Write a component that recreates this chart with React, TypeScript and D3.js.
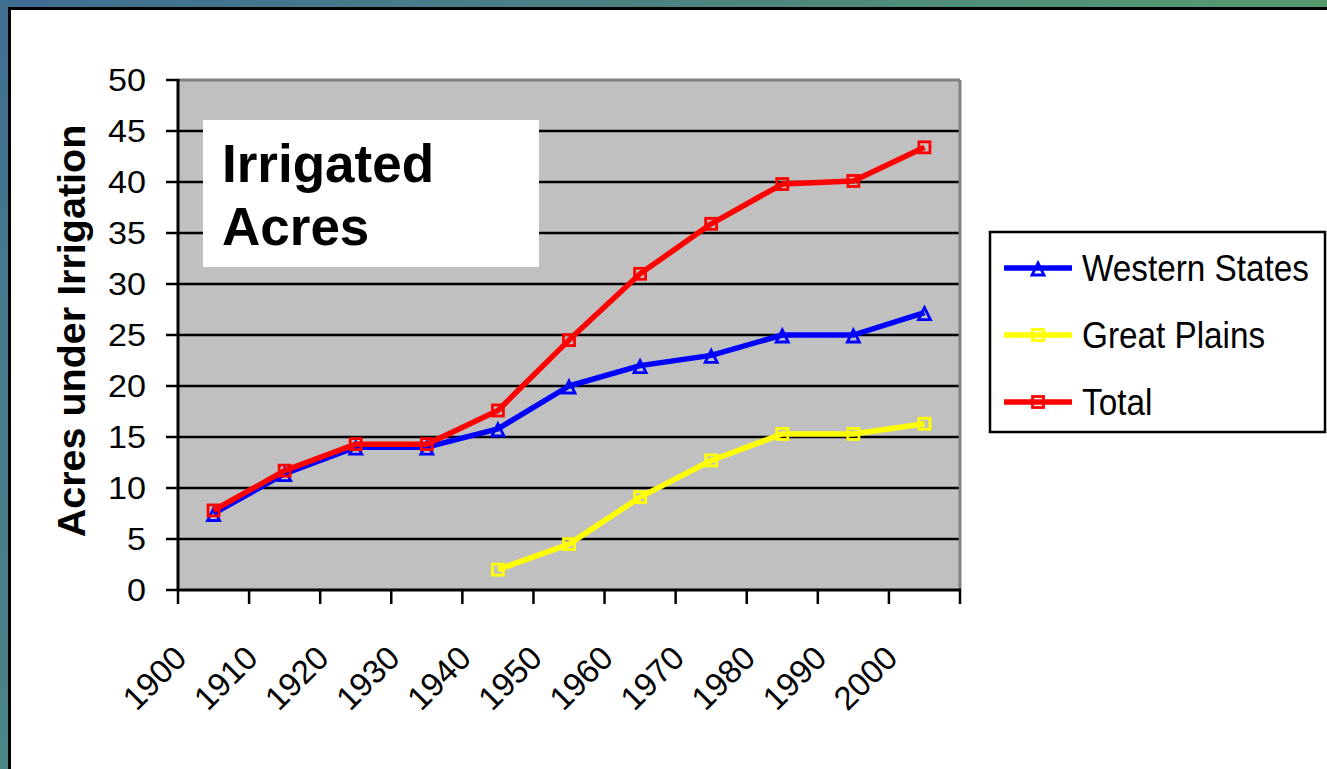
import React from "react";
import * as d3 from "d3";

const years = ["1900", "1910", "1920", "1930", "1940", "1950", "1960", "1970", "1980", "1990", "2000"];
const western = [7.5, 11.4, 14, 14, 15.8, 20, 22, 23, 25, 25, 27.2];
const greatPlains: (number | null)[] = [null, null, null, null, 2, 4.5, 9.1, 12.7, 15.3, 15.3, 16.3];
const total = [7.8, 11.7, 14.3, 14.3, 17.6, 24.5, 31, 35.9, 39.8, 40.1, 43.4];
const yTicks = [0, 5, 10, 15, 20, 25, 30, 35, 40, 45, 50];
const seriesNames = ["Western States", "Great Plains", "Total"];
const seriesColors = ["#0000FF", "#FFFF00", "#FF0000"];

const W = 1327, H = 769;
const plot = { left: 178, right: 960, top: 80, bottom: 590 };

export default function App() {
  const x = d3.scaleBand<string>().domain(years).range([plot.left, plot.right]).padding(0);
  const y = d3.scaleLinear().domain([0, 50]).range([plot.bottom, plot.top]);
  const cx = (yr: string) => (x(yr) as number) + x.bandwidth() / 2;

  const line = d3
    .line<[string, number | null]>()
    .defined((d) => d[1] != null)
    .x((d) => cx(d[0]))
    .y((d) => y(d[1] as number));

  const series = [western, greatPlains, total];
  const bounds = [...years.map((yr) => x(yr) as number), plot.right];

  const tri = (px: number, py: number, s = 12) =>
    `M${px},${py - s * 0.5} L${px + s / 2},${py + s * 0.5} L${px - s / 2},${py + s * 0.5} Z`;

  const marker = (i: number, px: number, py: number, key: string) =>
    i === 0 ? (
      <path key={key} d={tri(px, py + 1)} fill="none" stroke={seriesColors[i]} strokeWidth={2.8} />
    ) : (
      <rect key={key} x={px - 5.5} y={py - 5.5} width={11} height={11} fill="none" stroke={seriesColors[i]} strokeWidth={2.8} />
    );

  return (
    <div style={{ position: "fixed", left: 0, top: 0, width: W, height: H }}>
      <svg width={W} height={H} style={{ display: "block" }} fontFamily="Liberation Sans, Arial, sans-serif">
        <defs>
          <linearGradient id="topg" x1="0" y1="0" x2="1" y2="0">
            <stop offset="0" stopColor="#3f6d93" />
            <stop offset="1" stopColor="#579a6f" />
          </linearGradient>
          <linearGradient id="leftg" x1="0" y1="0" x2="0" y2="1">
            <stop offset="0" stopColor="#416f92" />
            <stop offset="1" stopColor="#4b8585" />
          </linearGradient>
        </defs>
        <rect x={0} y={0} width={W} height={H} fill="#ffffff" />
        <rect x={0} y={0} width={W} height={8} fill="url(#topg)" />
        <rect x={0} y={0} width={8} height={H} fill="url(#leftg)" />
        <rect x={8} y={7} width={W - 8} height={3} fill="#000" />
        <rect x={8} y={7} width={3} height={H - 7} fill="#000" />

        {/* plot area */}
        <rect x={plot.left} y={plot.top} width={plot.right - plot.left} height={plot.bottom - plot.top} fill="#C0C0C0" />
        {yTicks
          .filter((t) => t > 0 && t < 50)
          .map((t) => (
            <line key={t} x1={plot.left} x2={plot.right} y1={y(t)} y2={y(t)} stroke="#000" strokeWidth={2.5} />
          ))}
        <line x1={plot.left} x2={plot.right} y1={plot.top} y2={plot.top} stroke="#808080" strokeWidth={3} />
        <line x1={plot.right} x2={plot.right} y1={plot.top} y2={plot.bottom} stroke="#808080" strokeWidth={3} />

        {/* axes */}
        <line x1={plot.left} x2={plot.left} y1={plot.top - 1} y2={plot.bottom} stroke="#000" strokeWidth={3} />
        <line x1={plot.left - 1} x2={plot.right + 1} y1={plot.bottom} y2={plot.bottom} stroke="#000" strokeWidth={3} />
        {yTicks.map((t) => (
          <g key={t}>
            <line x1={plot.left - 12} x2={plot.left} y1={y(t)} y2={y(t)} stroke="#000" strokeWidth={2.5} />
            <text
              transform={`translate(146 ${y(t)}) scale(1.12 1)`}
              dy="0.36em"
              textAnchor="end"
              fontSize={30.5}
              fill="#000"
            >
              {t}
            </text>
          </g>
        ))}
        {bounds.map((b, i) => (
          <line key={i} x1={b} x2={b} y1={plot.bottom} y2={plot.bottom + 14} stroke="#000" strokeWidth={2.5} />
        ))}
        {years.map((yr) => {
          const ax = cx(yr) - 25;
          const ay = 660;
          return (
            <text key={yr} x={ax} y={ay} transform={`rotate(-45 ${ax} ${ay})`} textAnchor="end" fontSize={33} fill="#000">
              {yr}
            </text>
          );
        })}
        <text
          transform={`translate(85 ${331}) rotate(-90)`}
          textAnchor="middle"
          fontSize={39.5}
          fontWeight="bold"
          fill="#000"
        >
          Acres under Irrigation
        </text>

        {/* title box */}
        <rect x={203} y={120} width={336} height={147} fill="#ffffff" />
        <text x={222} y={182} fontSize={53} fontWeight="bold" fill="#000">
          Irrigated
        </text>
        <text x={222} y={245} fontSize={53} fontWeight="bold" fill="#000">
          Acres
        </text>

        {/* series */}
        {series.map((vals, i) => {
          const pts = years.map((yr, j) => [yr, vals[j]] as [string, number | null]);
          return (
            <g key={i}>
              <path d={line(pts) as string} fill="none" stroke={seriesColors[i]} strokeWidth={5.5} strokeLinejoin="round" />
              {pts
                .filter((p) => p[1] != null)
                .map((p) => marker(i, cx(p[0]), y(p[1] as number), p[0]))}
            </g>
          );
        })}

        {/* legend */}
        <rect x={990} y={232} width={335} height={200} fill="#ffffff" stroke="#000" strokeWidth={2.5} />
        {seriesNames.map((n, i) => {
          const ly = 268 + i * 67;
          return (
            <g key={n}>
              <line x1={1004} x2={1072} y1={ly} y2={ly} stroke={seriesColors[i]} strokeWidth={5.5} />
              {marker(i, 1038, ly, "m")}
              <text
                transform={`translate(1082 ${ly}) scale(0.9 1)`}
                dy="0.36em"
                fontSize={37}
                fill="#000"
              >
                {n}
              </text>
            </g>
          );
        })}
      </svg>
    </div>
  );
}
